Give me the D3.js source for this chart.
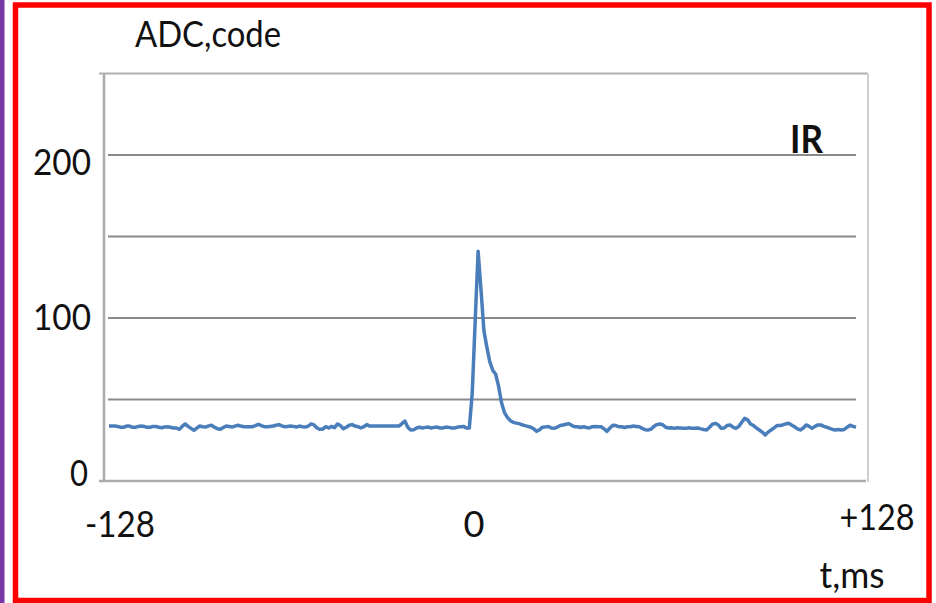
<!DOCTYPE html>
<html>
<head>
<meta charset="utf-8">
<script src="https://cdn.jsdelivr.net/npm/d3@7/dist/d3.min.js"></script>
<style>
  html, body { margin: 0; padding: 0; background: #fff; }
  svg { display: block; }
  text { font-family: Lato, "Liberation Sans", sans-serif; fill: #111; }
</style>
</head>
<body>
<svg id="chart" width="936" height="603"></svg>
<script>
// IR channel: ADC code per 1 ms sample, window -128 .. +127 ms around the trigger
const irCodes = [
  33.7, 33.7, 33.7, 33.5, 32.9, 32.9, 33.7, 33.7, 32.9, 32.9, 33.5, 33.7, 33.5, 32.9, 32.9, 33.5,
  33.5, 33.0, 32.7, 33.2, 33.3, 33.0, 32.5, 32.5, 31.7, 33.5, 35.0, 33.5, 32.3, 31.1, 32.5, 33.7,
  33.3, 33.1, 33.8, 34.2, 33.0, 32.1, 31.7, 32.8, 33.7, 33.4, 33.1, 33.7, 34.2, 33.7, 33.3, 33.3,
  33.3, 33.3, 34.0, 34.8, 34.0, 33.3, 33.3, 33.5, 33.7, 34.2, 34.6, 33.8, 33.3, 33.5, 33.7, 33.5,
  33.1, 33.7, 33.3, 33.1, 33.7, 35.0, 34.4, 32.5, 31.7, 31.9, 33.3, 32.5, 33.5, 32.7, 35.0, 34.0,
  32.1, 33.0, 34.2, 34.6, 33.7, 33.3, 32.5, 33.3, 34.6, 33.7, 33.8, 33.7, 33.8, 33.7, 33.7, 33.8,
  33.7, 33.7, 33.8, 33.7, 35.2, 36.8, 33.0, 31.3, 31.5, 32.5, 33.0, 32.5, 32.9, 33.1, 32.5, 32.9,
  33.1, 32.5, 32.5, 33.1, 32.9, 32.5, 32.5, 33.1, 33.3, 33.5, 32.5, 32.5, 54.0, 98.0, 141.0, 117.0,
  92.0, 82.0, 73.0, 68.0, 65.5, 58.0, 48.0, 42.0, 39.0, 37.0, 36.0, 35.5, 35.2, 34.5, 34.0, 33.5,
  33.0, 32.0, 30.5, 31.5, 33.0, 33.2, 33.4, 32.5, 32.3, 33.0, 34.0, 34.4, 34.8, 35.2, 34.0, 33.3,
  33.3, 32.8, 33.3, 32.8, 32.5, 33.3, 33.5, 33.3, 33.3, 32.0, 30.5, 32.5, 34.2, 34.0, 33.3, 33.3,
  32.8, 33.3, 33.3, 33.7, 33.5, 33.3, 32.3, 31.5, 31.3, 31.8, 33.5, 34.6, 35.0, 34.5, 33.0, 32.5,
  32.7, 32.3, 32.7, 32.5, 32.3, 32.3, 32.7, 32.3, 32.3, 32.5, 32.0, 31.6, 31.3, 33.0, 34.8, 35.4,
  34.4, 32.3, 32.5, 34.0, 34.4, 33.0, 32.3, 33.5, 36.0, 38.5, 37.5, 35.0, 34.0, 32.5, 31.3, 30.0,
  28.2, 30.0, 31.3, 32.5, 34.0, 34.0, 34.4, 35.0, 35.4, 34.4, 33.3, 32.0, 31.3, 32.5, 34.4, 33.5,
  32.3, 33.5, 34.4, 34.4, 33.5, 33.0, 32.3, 31.6, 31.3, 31.6, 31.3, 31.6, 33.0, 34.2, 33.5, 33.0
];
const sampleTimes = d3.range(-128, 128);   // ms, one sample per ms

const gridValues = [50, 100, 150, 200];
const yLabelValues = [0, 100, 200];
const xLabelValues = [-128, 0, 128];
const xLabelTexts = ["-128", "0", "+128"];
const yTitle = "ADC,code";
const xTitle = "t,ms";
const seriesName = "IR";

const svg = d3.select("#chart");

// plot geometry
const plot = { left: 104, right: 868, top: 73.5, bottom: 481 };
const x = d3.scaleLinear().domain([-128, 127]).range([109, 856]);
const y = d3.scaleLinear().domain([0, 250]).range([plot.bottom, plot.top]);

// page decorations: purple strip at the far left and the red frame
svg.append("rect").attr("x", 0).attr("y", 0).attr("width", 4.5).attr("height", 603).attr("fill", "#7538a6");
svg.append("rect")
  .attr("x", 15.5).attr("y", 5).attr("width", 913.5).attr("height", 595.5)
  .attr("fill", "none").attr("stroke", "#ff0000").attr("stroke-width", 5.5);

// plot frame
svg.append("line").attr("x1", 99).attr("x2", plot.right).attr("y1", plot.top).attr("y2", plot.top)
  .attr("stroke", "#b0b0b0").attr("stroke-width", 2);
svg.append("line").attr("x1", plot.right).attr("x2", plot.right).attr("y1", plot.top).attr("y2", plot.bottom + 1)
  .attr("stroke", "#cfcfcf").attr("stroke-width", 2);

// horizontal gridlines
svg.append("g").selectAll("line").data(gridValues).join("line")
  .attr("x1", 108).attr("x2", 856)
  .attr("y1", d => y(d)).attr("y2", d => y(d))
  .attr("stroke", "#8a8a8a").attr("stroke-width", 2);

// axes lines
svg.append("line").attr("x1", plot.left).attr("x2", plot.left).attr("y1", plot.top).attr("y2", plot.bottom)
  .attr("stroke", "#ababab").attr("stroke-width", 2.5);
svg.append("line").attr("x1", 99).attr("x2", 866).attr("y1", plot.bottom).attr("y2", plot.bottom)
  .attr("stroke", "#ababab").attr("stroke-width", 2.5);

// y tick labels (baseline offsets from the value position)
const yLabelShift = { 0: 5, 100: 12, 200: 20 };
const yLabelWidth = { 0: 18, 100: 58, 200: 58 };
svg.append("g").selectAll("text").data(yLabelValues).join("text")
  .attr("x", d => d === 0 ? 88 : 91)
  .attr("y", d => y(d) + yLabelShift[d])
  .attr("text-anchor", "end")
  .attr("font-size", 37)
  .attr("textLength", d => yLabelWidth[d])
  .attr("lengthAdjust", "spacingAndGlyphs")
  .text(d => d);

// x tick labels
const xLabelStyle = [
  { dx: 11, baseline: 537, width: 70 },
  { dx: -10, baseline: 537, width: 21 },
  { dx: 18, baseline: 530, width: 75 }
];
svg.append("g").selectAll("text").data(xLabelValues).join("text")
  .attr("x", (d, i) => Math.min(x(d), x.range()[1] + 3) + xLabelStyle[i].dx)
  .attr("y", (d, i) => xLabelStyle[i].baseline)
  .attr("text-anchor", "middle")
  .attr("font-size", 37)
  .attr("textLength", (d, i) => xLabelStyle[i].width)
  .attr("lengthAdjust", "spacingAndGlyphs")
  .text((d, i) => xLabelTexts[i]);

// axis titles and series name
svg.append("text").attr("x", 208).attr("y", 47).attr("text-anchor", "middle")
  .attr("font-size", 37).attr("textLength", 146).attr("lengthAdjust", "spacingAndGlyphs").text(yTitle);
svg.append("text").attr("x", 852).attr("y", 588).attr("text-anchor", "middle")
  .attr("font-size", 37).attr("textLength", 65).attr("lengthAdjust", "spacingAndGlyphs").text(xTitle);
svg.append("text").attr("x", 806.5).attr("y", 153).attr("text-anchor", "middle")
  .attr("font-size", 39).attr("font-weight", "bold")
  .attr("textLength", 33).attr("lengthAdjust", "spacingAndGlyphs").text(seriesName);

// IR trace
const line = d3.line()
  .x((d, i) => x(sampleTimes[i]))
  .y(d => y(d));
svg.append("path")
  .datum(irCodes)
  .attr("d", line)
  .attr("fill", "none")
  .attr("stroke", "#4a7ebb")
  .attr("stroke-width", 3.5)
  .attr("stroke-linejoin", "round");
</script>
</body>
</html>
